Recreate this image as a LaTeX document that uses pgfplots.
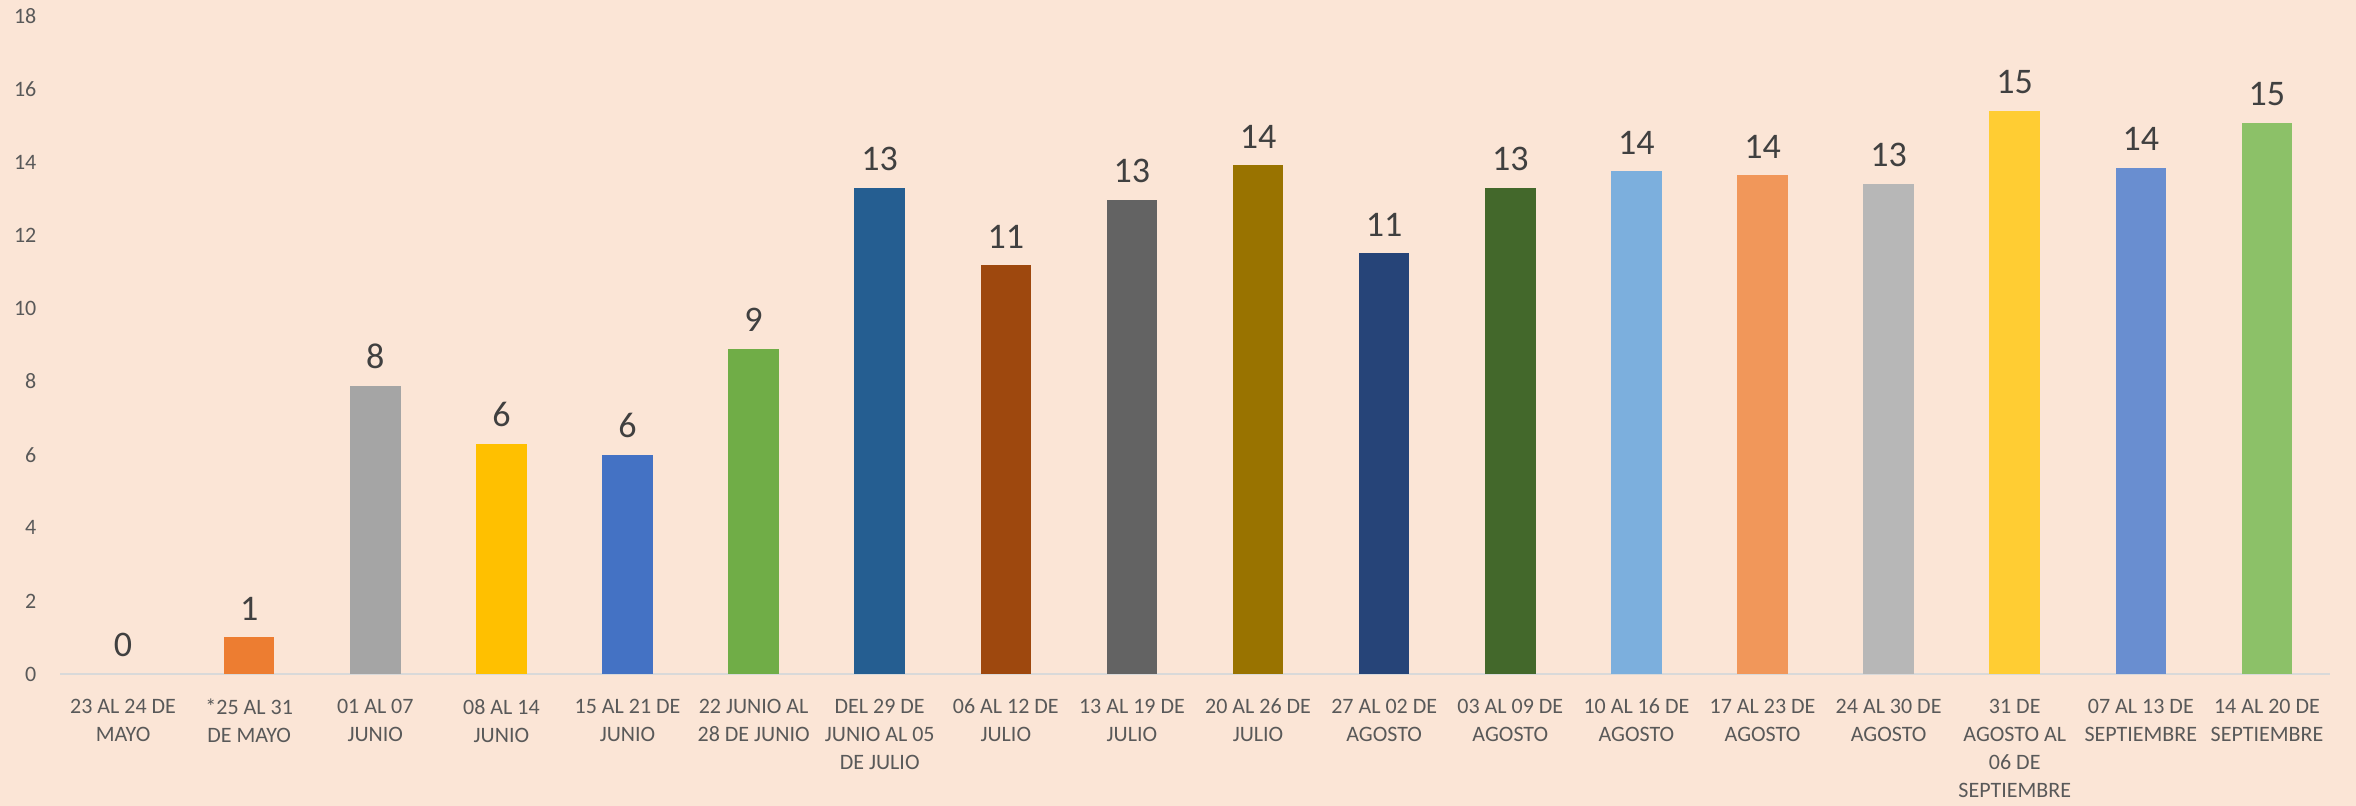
\documentclass[border=0pt]{standalone}
\usepackage{fontspec}
\setmainfont{Carlito}
\usepackage{pgfplots}
\pgfplotsset{compat=1.18}
\definecolor{bg}{HTML}{FBE5D6}
\definecolor{tickc}{HTML}{595959}
\definecolor{lblc}{HTML}{404040}
\definecolor{axc}{HTML}{D9D9D9}
\definecolor{c1}{HTML}{ED7D31}
\definecolor{c2}{HTML}{A5A5A5}
\definecolor{c3}{HTML}{FFC000}
\definecolor{c4}{HTML}{4472C4}
\definecolor{c5}{HTML}{70AD47}
\definecolor{c6}{HTML}{255E91}
\definecolor{c7}{HTML}{9E480E}
\definecolor{c8}{HTML}{636363}
\definecolor{c9}{HTML}{997300}
\definecolor{c10}{HTML}{264478}
\definecolor{c11}{HTML}{43682B}
\definecolor{c12}{HTML}{7CAFDD}
\definecolor{c13}{HTML}{F1975A}
\definecolor{c14}{HTML}{B7B7B7}
\definecolor{c15}{HTML}{FFCD33}
\definecolor{c16}{HTML}{698ED0}
\definecolor{c17}{HTML}{8CC168}
\begin{document}
\begin{tikzpicture}
\path[use as bounding box, fill=bg] (0,0) rectangle (1178pt,403pt);
\begin{axis}[
  at={(30pt,66pt)}, anchor=south west,
  scale only axis, width=1135pt, height=329pt,
  xmin=-0.5, xmax=17.5, ymin=0, ymax=18,
  ytick={0,2,...,18},
  xtick={0,...,17},
  xticklabels={{23 AL 24 DE\\MAYO},{*25 AL 31\\DE MAYO},{01 AL 07\\JUNIO},{08 AL 14\\JUNIO},{15 AL 21 DE\\JUNIO},{22 JUNIO AL\\28 DE JUNIO},{DEL 29 DE\\JUNIO AL 05\\DE JULIO},{06 AL 12 DE\\JULIO},{13 AL 19 DE\\JULIO},{20 AL 26 DE\\JULIO},{27 AL 02 DE\\AGOSTO},{03 AL 09 DE\\AGOSTO},{10 AL 16 DE\\AGOSTO},{17 AL 23 DE\\AGOSTO},{24 AL 30 DE\\AGOSTO},{31 DE\\AGOSTO AL\\06 DE\\SEPTIEMBRE},{07 AL 13 DE\\SEPTIEMBRE},{14 AL 20 DE\\SEPTIEMBRE}},
  axis x line*=bottom, axis y line*=left,
  x axis line style={draw=axc, line width=1pt, -},
  y axis line style={draw=none},
  major tick length=0pt, tick style={draw=none},
  /pgf/number format/assume math mode=true,
  ticklabel style={font=\fontsize{11}{14}\selectfont, text=tickc},
  xticklabel style={align=center, yshift=-9pt},
  yticklabel style={xshift=-8.3pt},
  ybar, bar width=25.25pt, bar shift=0pt,
  point meta=explicit symbolic,
  nodes near coords,
  every node near coord/.append style={font=\fontsize{18}{20}\selectfont, text=lblc, yshift=5pt},
]
\addplot[draw=none, fill=none] coordinates {(0,0)[0]};
\addplot[draw=none, fill=c1] coordinates {(1,1.0)[1]};
\addplot[draw=none, fill=c2] coordinates {(2,7.87)[8]};
\addplot[draw=none, fill=c3] coordinates {(3,6.3)[6]};
\addplot[draw=none, fill=c4] coordinates {(4,6.0)[6]};
\addplot[draw=none, fill=c5] coordinates {(5,8.9)[9]};
\addplot[draw=none, fill=c6] coordinates {(6,13.29)[13]};
\addplot[draw=none, fill=c7] coordinates {(7,11.18)[11]};
\addplot[draw=none, fill=c8] coordinates {(8,12.96)[13]};
\addplot[draw=none, fill=c9] coordinates {(9,13.92)[14]};
\addplot[draw=none, fill=c10] coordinates {(10,11.51)[11]};
\addplot[draw=none, fill=c11] coordinates {(11,13.29)[13]};
\addplot[draw=none, fill=c12] coordinates {(12,13.75)[14]};
\addplot[draw=none, fill=c13] coordinates {(13,13.64)[14]};
\addplot[draw=none, fill=c14] coordinates {(14,13.40)[13]};
\addplot[draw=none, fill=c15] coordinates {(15,15.40)[15]};
\addplot[draw=none, fill=c16] coordinates {(16,13.84)[14]};
\addplot[draw=none, fill=c17] coordinates {(17,15.07)[15]};
\end{axis}
\end{tikzpicture}
\end{document}
